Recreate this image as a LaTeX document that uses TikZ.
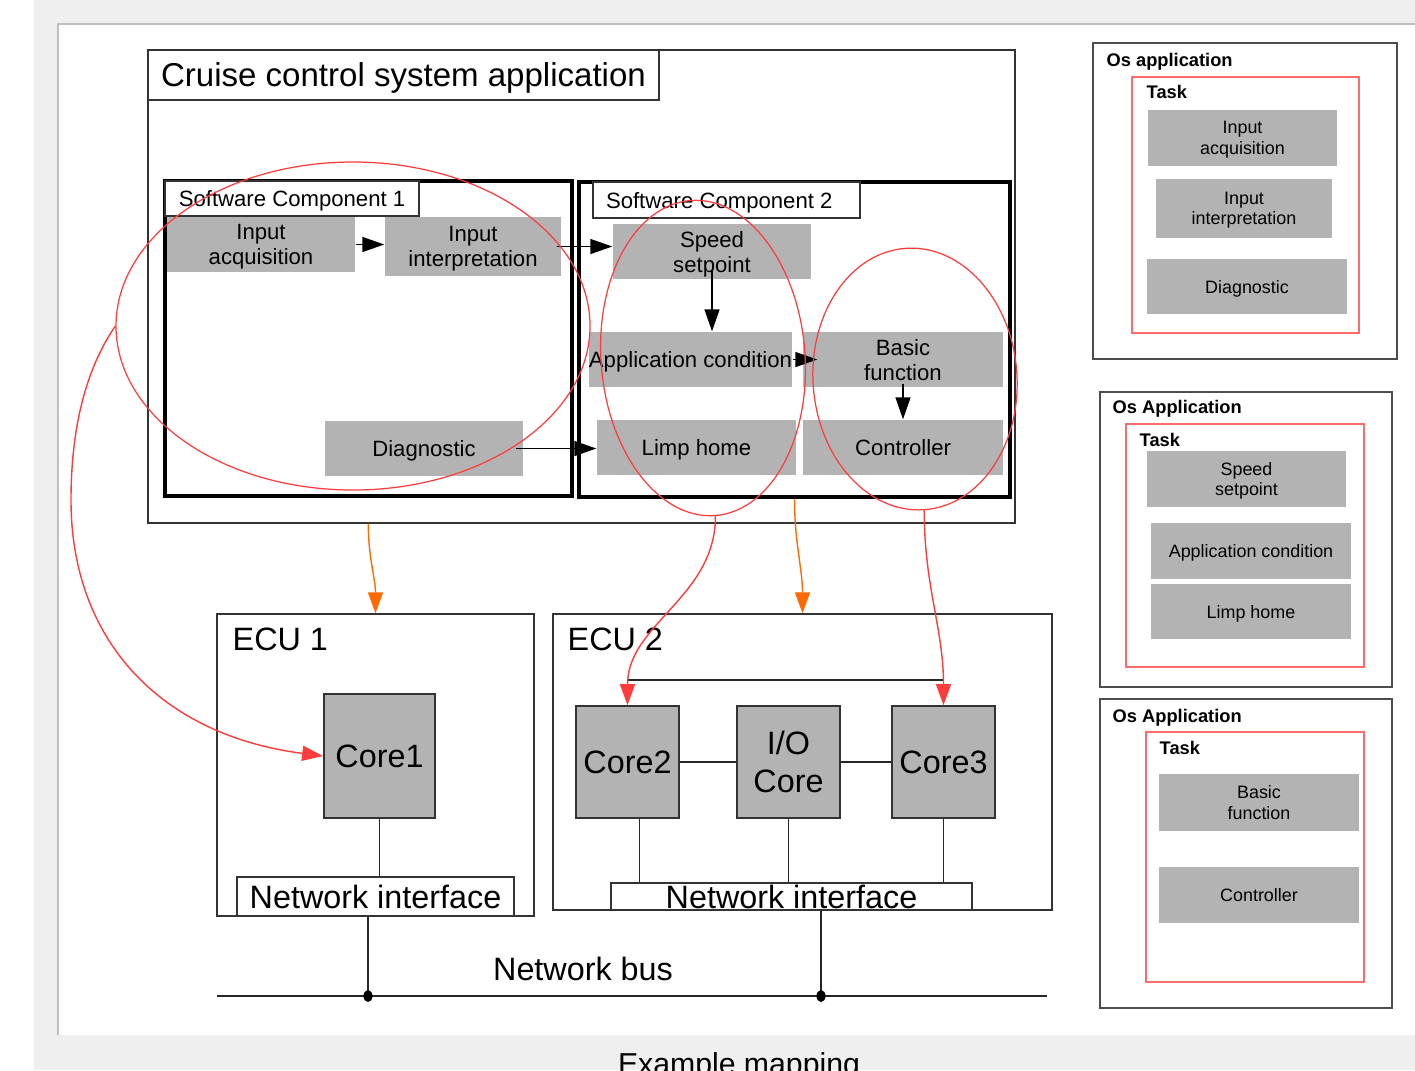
\documentclass[tikz,border=0pt]{standalone}
\usepackage{fontspec}
\setmainfont{Liberation Sans}
\usepackage{xcolor}
\usetikzlibrary{shapes.geometric, arrows.meta, positioning, calc}

\definecolor{boxgray}{HTML}{B3B3B3}
\definecolor{pagegray}{HTML}{EFEFEF}
\definecolor{mapred}{HTML}{FF3B3B}
\definecolor{taskred}{HTML}{FF6B6B}
\definecolor{maporange}{HTML}{FF6A00}
\definecolor{frameline}{HTML}{4D4D4D}

\tikzstyle{blk} = [fill=boxgray, inner sep=0pt, align=center, text depth=0pt, font=\fontsize{6.3}{7.1}\selectfont]
\tikzstyle{osblk} = [blk, font=\fontsize{5.1}{5.8}\selectfont]
\tikzstyle{core} = [draw=black!80, fill=boxgray, inner sep=0pt, align=center, line width=0.5pt, font=\fontsize{9.2}{10.8}\selectfont]
\tikzstyle{boxframe} = [draw=black!80, inner sep=0pt, line width=0.4pt]
\tikzstyle{swc} = [draw=black, inner sep=0pt, line width=0.9pt]
\tikzstyle{osframe} = [draw=frameline, inner sep=0pt, line width=0.5pt]
\tikzstyle{taskframe} = [draw=taskred, inner sep=0pt, line width=0.5pt]
\tikzstyle{grpellipse} = [draw=mapred, ellipse, inner sep=0pt, line width=0.35pt]
\tikzstyle{flow} = [line width=0.4pt, -{Triangle[length=0.22cm, width=0.15cm]}]
\tikzstyle{mapto} = [mapred, line width=0.4pt, -{Triangle[length=0.21cm, width=0.15cm]}]
\tikzstyle{deploy} = [maporange, line width=0.4pt, -{Triangle[length=0.21cm, width=0.15cm]}]
\tikzstyle{wire} = [black!85, line width=0.4pt]
\tikzstyle{bigtxt} = [font=\fontsize{9.2}{10.8}\selectfont, inner sep=0pt]
\tikzstyle{swctxt} = [font=\fontsize{6.3}{7.1}\selectfont, inner sep=0pt, text depth=0pt]
\tikzstyle{ostxt} = [font=\bfseries\fontsize{5.2}{6}\selectfont, inner sep=0pt, anchor=base west]

\begin{document}
\begin{tikzpicture}
    \useasboundingbox (0,0) rectangle (14.15,-10.70);
    \clip (0,0) rectangle (14.15,-10.70);

    % Page
    \fill[pagegray] (0.335,0) rectangle (14.15,-10.70);
    \fill[white] (0.58,-0.24) rectangle (14.15,-10.35);
    \draw[black!25, line width=0.5pt] (0.58,-10.35) -- (0.58,-0.24) -- (14.15,-0.24);

    % Cruise control application
    \node[boxframe, minimum width=8.67cm, minimum height=4.73cm] (app) at (5.815,-2.865) {};
    \node[boxframe, fill=white, text depth=0pt, minimum width=5.11cm, minimum height=0.50cm, font=\fontsize{9.4}{11}\selectfont] (apptitle) at (4.035,-0.75) {Cruise control system application};

    % Software components
    \node[swc, minimum width=4.07cm, minimum height=3.15cm] (sw1) at (3.685,-3.385) {};
    \node[swc, minimum width=4.31cm, minimum height=3.15cm] (sw2) at (7.945,-3.395) {};
    \node[boxframe, fill=white, swctxt, minimum width=2.54cm, minimum height=0.35cm] (sw1lbl) at (2.92,-1.985) {Software Component 1};
    \node[boxframe, fill=white, minimum width=2.67cm, minimum height=0.36cm] (sw2lbl) at (7.265,-2.00) {};
    \node[swctxt, anchor=west] (sw2txt) at ([xshift=0.13cm]sw2lbl.west) {Software Component 2};

    % Runnables
    \node[blk, minimum width=1.88cm, minimum height=0.55cm] (ia) at (2.61,-2.445) {Input\\acquisition};
    \node[blk, minimum width=1.76cm, minimum height=0.59cm] (ii) at (4.73,-2.465) {Input\\interpretation};
    \node[blk, minimum width=1.98cm, minimum height=0.55cm] (diag) at (4.24,-4.485) {Diagnostic};
    \node[blk, minimum width=1.98cm, minimum height=0.55cm] (ss) at (7.12,-2.515) {Speed\\setpoint};
    \node[blk, minimum width=1.99cm, minimum height=0.55cm] (ac) at (6.905,-3.595) {Application condition};
    \node[blk, minimum width=2.00cm, minimum height=0.55cm] (bf) at (9.03,-3.595) {Basic\\function};
    \node[blk, minimum width=1.99cm, minimum height=0.55cm] (limp) at (6.965,-4.475) {Limp home};
    \node[blk, minimum width=2.00cm, minimum height=0.55cm] (ctrl) at (9.03,-4.475) {Controller};

    \draw[flow] (ia.east) -- (ia.east -| ii.west);
    \draw[flow] ([xshift=-0.05cm]ii.east) -- (ii.east -| ss.west);
    \draw[flow] ([xshift=-0.08cm]diag.east) -- (diag.east -| limp.west);
    \draw[flow] ([yshift=0.09cm]ss.south) -- (ss.south |- ac.north);
    \draw[flow] (ac.east) -- ([xshift=0.15cm]ac.east -| bf.west);
    \draw[flow] ([yshift=0.04cm]bf.south) -- (bf.south |- ctrl.north);

    % ECU 1
    \node[boxframe, minimum width=3.17cm, minimum height=3.02cm] (ecu1) at (3.755,-7.65) {};
    \node[bigtxt, anchor=base west] (ecu1lbl) at (2.32,-6.50) {ECU 1};
    \node[core, minimum width=1.11cm, minimum height=1.24cm] (core1) at (3.795,-7.56) {Core1};
    \node[boxframe, fill=white, bigtxt, minimum width=2.77cm, minimum height=0.39cm] (ni1) at (3.755,-8.965) {Network interface};
    \draw[wire] (core1.south) -- (core1.south |- ni1.north);

    % ECU 2
    \node[boxframe, minimum width=4.99cm, minimum height=2.96cm] (ecu2) at (8.025,-7.62) {};
    \node[bigtxt, anchor=base west] (ecu2lbl) at (5.67,-6.50) {ECU 2};
    \node[core, minimum width=1.03cm, minimum height=1.12cm] (core2) at (6.275,-7.62) {Core2};
    \node[core, minimum width=1.03cm, minimum height=1.12cm] (io) at (7.885,-7.62) {I/O\\Core};
    \node[core, minimum width=1.03cm, minimum height=1.12cm] (core3) at (9.435,-7.62) {Core3};
    \node[boxframe, fill=white, minimum width=3.61cm, minimum height=0.27cm] (ni2) at (7.915,-8.965) {};
    \node[bigtxt] (ni2txt) at (ni2) {Network interface};
    \draw[wire] (core2.east) -- (io.west);
    \draw[wire] (io.east) -- (core3.west);
    \draw[wire] ([xshift=0.12cm]core2.south) -- ([xshift=0.12cm]core2.south |- ni2.north);
    \draw[wire] (io.south) -- (io.south |- ni2.north);
    \draw[wire] (core3.south) -- (core3.south |- ni2.north);
    \draw[wire] ([yshift=0.25cm]core2.north) -- ([yshift=0.25cm]core3.north);

    % Network bus
    \coordinate (busL) at (2.17,-9.96);
    \coordinate (busR) at (10.47,-9.96);
    \coordinate (tap1) at (3.68,-9.96);
    \coordinate (tap2) at (8.21,-9.96);
    \draw[wire, line width=0.6pt] (busL) -- (busR);
    \node[bigtxt, anchor=base] (buslbl) at (5.83,-9.80) {Network bus};
    \draw[wire] (ni1.south -| tap1) -- (tap1);
    \draw[wire] (ni2.south -| tap2) -- (tap2);
    \fill (tap1) ellipse (0.045cm and 0.06cm);
    \fill (tap2) ellipse (0.045cm and 0.06cm);

    % Mapping of runnables to cores
    \node[grpellipse, minimum width=4.74cm, minimum height=3.28cm] (grp1) at (3.53,-3.26) {};
    \node[grpellipse, minimum width=2.04cm, minimum height=3.16cm, rotate=4.5] (grp2) at (7.03,-3.58) {};
    \node[grpellipse, minimum width=2.04cm, minimum height=2.62cm, rotate=4] (grp3) at (9.15,-3.79) {};
    \draw[mapto] (grp1.west) .. controls (0.85,-3.70) and (0.71,-4.30) .. (0.71,-5.00) .. controls (0.71,-6.40) and (1.60,-7.35) .. (core1.west);
    \draw[mapto] (grp2.south) to[out=-90, in=90] (core2.north);
    \draw[mapto] (grp3.south) to[out=-90, in=90] (core3.north);

    % Deployment to ECUs
    \draw[deploy] ([xshift=2.21cm]app.south west) to[out=-90, in=90] (ecu1.north);
    \draw[deploy] (sw2.south) to[out=-90, in=90] (ecu2.north);

    % Os application 1
    \node[osframe, minimum width=3.04cm, minimum height=3.16cm] (os1) at (12.45,-2.01) {};
    \node[ostxt] (os1lbl) at (11.06,-0.66) {Os application};
    \node[taskframe, minimum width=2.27cm, minimum height=2.56cm] (task1) at (12.455,-2.05) {};
    \node[ostxt] (task1lbl) at (11.46,-0.98) {Task};
    \node[osblk, minimum width=1.89cm, minimum height=0.56cm] (osia) at (12.425,-1.38) {Input\\acquisition};
    \node[osblk, minimum width=1.76cm, minimum height=0.59cm] (osii) at (12.44,-2.085) {Input\\interpretation};
    \node[osblk, minimum width=2.00cm, minimum height=0.55cm] (osdiag) at (12.47,-2.865) {Diagnostic};

    % Os application 2
    \node[osframe, minimum width=2.92cm, minimum height=2.95cm] (os2) at (12.46,-5.395) {};
    \node[ostxt] (os2lbl) at (11.12,-4.13) {Os Application};
    \node[taskframe, minimum width=2.38cm, minimum height=2.43cm] (task2) at (12.45,-5.455) {};
    \node[ostxt] (task2lbl) at (11.39,-4.46) {Task};
    \node[osblk, minimum width=1.99cm, minimum height=0.56cm] (osss) at (12.465,-4.79) {Speed\\setpoint};
    \node[osblk, minimum width=2.00cm, minimum height=0.56cm] (osac) at (12.51,-5.51) {Application condition};
    \node[osblk, minimum width=2.00cm, minimum height=0.55cm] (oslimp) at (12.51,-6.115) {Limp home};

    % Os application 3
    \node[osframe, minimum width=2.92cm, minimum height=3.09cm] (os3) at (12.46,-8.535) {};
    \node[ostxt] (os3lbl) at (11.12,-7.22) {Os Application};
    \node[taskframe, minimum width=2.18cm, minimum height=2.50cm] (task3) at (12.55,-8.57) {};
    \node[ostxt] (task3lbl) at (11.59,-7.54) {Task};
    \node[osblk, minimum width=2.00cm, minimum height=0.57cm] (osbf) at (12.59,-8.025) {Basic\\function};
    \node[osblk, minimum width=2.00cm, minimum height=0.56cm] (osctrl) at (12.59,-8.95) {Controller};

    % Caption
    \node[font=\fontsize{8.6}{10}\selectfont, anchor=base, inner sep=0pt] (caption) at (7.39,-10.745) {Example mapping};
\end{tikzpicture}
\end{document}
